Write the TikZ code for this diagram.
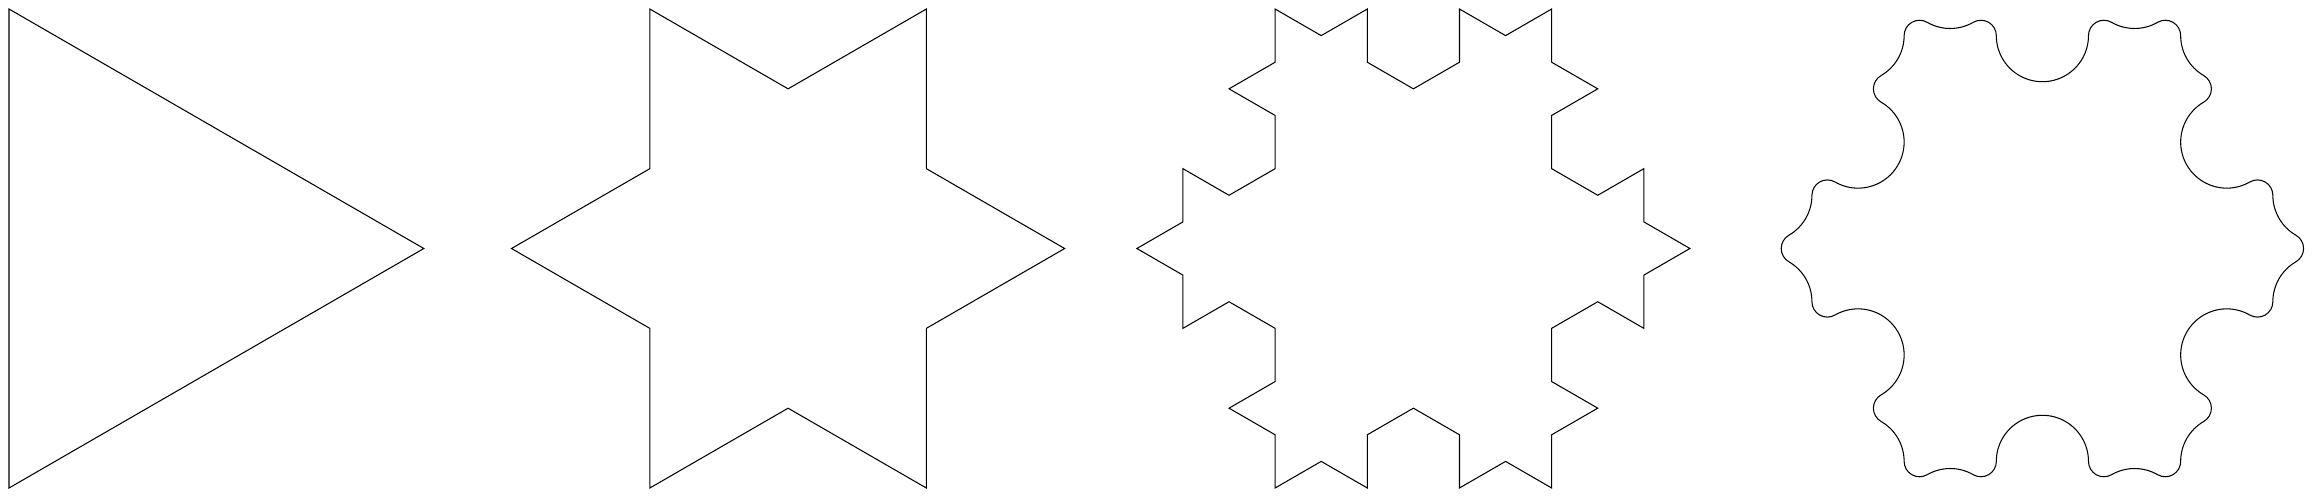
\documentclass[tikz,border=0pt]{standalone}
\usetikzlibrary{lindenmayersystems}

\pgfdeclarelindenmayersystem{snowflake}{
  \rule{F -> F-F++F-F}
  \rule{X -> F-F++F-X}
}

% same curve, every corner replaced by an arc from edge middle to edge middle
\pgfdeclarelindenmayersystem{round snowflake}{
  \symbol{F}{}
  \symbol{+}{
    \pgfpathcurveto{\pgfpoint{0.5489mm}{0mm}}{\pgfpoint{1.0561mm}{0.2929mm}}{\pgfpoint{1.3305mm}{0.7682mm}}
    \pgftransformshift{\pgfpoint{1.3305mm}{0.7682mm}}
    \pgftransformrotate{60}
  }
  \symbol{-}{
    \pgfpathcurveto{\pgfpoint{1.6467mm}{0mm}}{\pgfpoint{3.1682mm}{-0.8784mm}}{\pgfpoint{3.9915mm}{-2.3045mm}}
    \pgftransformshift{\pgfpoint{3.9915mm}{-2.3045mm}}
    \pgftransformrotate{-60}
  }
  \rule{F -> F-F++F-F}
}

\begin{document}
\begin{tikzpicture}[
    flake/.style={draw, line width=0.3pt}]

    \useasboundingbox (0,0) rectangle (23.13,4.98);

    \begin{scope}[shift={(0.09,4.89)}, rotate=-90]
        \path [flake, l-system={snowflake, axiom=F++F++X, order=0, step=47.9mm, angle=60}] (0,0) lindenmayer system -- cycle;
    \end{scope}

    \begin{scope}[shift={(6.498,4.89)}, rotate=-90]
        \path [flake, l-system={snowflake, axiom=F++F++X, order=1, step=15.967mm, angle=60}] (0,0) lindenmayer system -- cycle;
    \end{scope}

    \begin{scope}[shift={(12.751,4.89)}, rotate=-90]
        \path [flake, l-system={snowflake, axiom=F++F++X, order=2, step=5.322mm, angle=60}] (0,0) lindenmayer system -- cycle;
    \end{scope}

    \begin{scope}[shift={(19.041,4.6239)}, rotate=-90]
        \path [flake, l-system={round snowflake, axiom=F++F++F++, order=2, step=5.322mm, angle=60}] (0,0) lindenmayer system -- cycle;
    \end{scope}
\end{tikzpicture}
\end{document}
